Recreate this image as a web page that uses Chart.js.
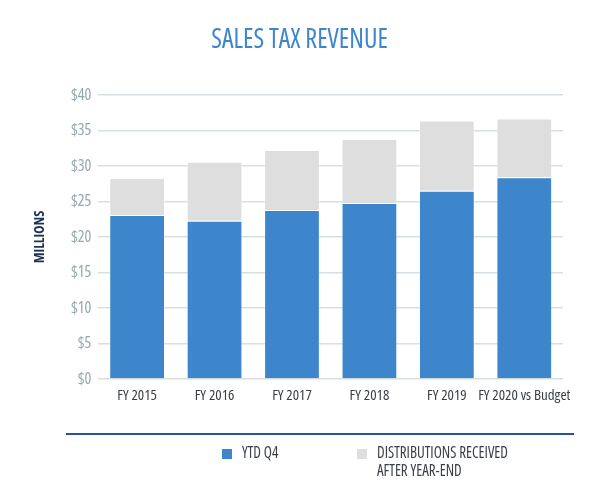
<!DOCTYPE html>
<html>
<head>
<meta charset="utf-8">
<script src="https://cdn.jsdelivr.net/npm/chart.js@4/dist/chart.umd.min.js"></script>
<style>
  html, body { margin: 0; padding: 0; background: #fff; }
  #wrap { position: relative; width: 600px; height: 491px; overflow: hidden; }
  #c { position: absolute; left: 0; top: 0; }
  #title { position: absolute; left: 0; width: 600px; top: 24px; text-align: center;
    font-family: "Open Sans", sans-serif; font-stretch: condensed;
    font-size: 27px; line-height: 27px; color: #3d86cc; margin: 0; font-weight: normal; }
  #title span { display: inline-block; transform: scaleX(0.965); transform-origin: center; }
  #rule { position: absolute; left: 66px; width: 508px; top: 432.5px; height: 2.5px; background: #2853a0; }
  .leg { position: absolute; font-family: "Open Sans", sans-serif; font-stretch: condensed;
    font-size: 17px; color: #3a3f45; line-height: 17.7px; white-space: nowrap;
    transform: scaleX(0.88); transform-origin: left top; }
  .sw { position: absolute; width: 10px; height: 9.5px; }
</style>
</head>
<body>
<div id="wrap">
  <canvas id="c" width="600" height="491"></canvas>
  <div id="title"><span>SALES TAX REVENUE</span></div>
  <div id="rule"></div>
  <div id="legend"></div>
</div>
<script>
const categories = ["FY 2015", "FY 2016", "FY 2017", "FY 2018", "FY 2019", "FY 2020 vs Budget"];
const ytdQ4 = [23.1, 22.3, 23.8, 24.8, 26.5, 28.4];
const afterYearEnd = [5.2, 8.3, 8.45, 9.0, 9.9, 8.3];
const seriesNames = ["YTD Q4", "DISTRIBUTIONS RECEIVED\nAFTER YEAR-END"];
const yTicks = [0, 5, 10, 15, 20, 25, 30, 35, 40];

const blue = "#3d86cb";
const grey = "#dedede";
const fontFam = '"Open Sans", sans-serif';

const ctx = document.getElementById("c");
const chart = new Chart(ctx, {
  type: "bar",
  data: {
    labels: categories,
    datasets: [
      { label: seriesNames[0], data: ytdQ4, backgroundColor: blue,
        borderColor: "rgba(255,255,255,0.35)", borderWidth: 1, borderSkipped: "bottom",
        barPercentage: 0.72, categoryPercentage: 1 },
      { label: seriesNames[1], data: afterYearEnd, backgroundColor: grey,
        borderColor: "rgba(255,255,255,0.5)", borderWidth: 1, borderSkipped: "bottom",
        barPercentage: 0.72, categoryPercentage: 1 }
    ]
  },
  options: {
    responsive: false,
    animation: false,
    devicePixelRatio: 1,
    layout: { padding: { top: 95, left: 21, right: 37, bottom: 87 } },
    plugins: { legend: { display: false }, tooltip: { enabled: false }, title: { display: false } },
    scales: {
      x: {
        stacked: true,
        afterFit: (axis) => { axis.height = 25; },
        grid: { display: false, drawTicks: false },
        border: { display: false },
        ticks: { color: "#3a3f45", padding: 8, maxRotation: 0, autoSkip: false,
          font: { family: fontFam, size: 15, weight: "condensed" } }
      },
      y: {
        stacked: true, min: 0, max: 40,
        afterBuildTicks: (axis) => { axis.ticks = yTicks.map(v => ({ value: v })); },
        afterFit: (axis) => { axis.width = 77.4; },
        grid: { color: "#d8dfe2", lineWidth: 1.5, drawTicks: false },
        border: { display: false },
        ticks: { callback: (v) => "$" + v, color: "#97a8ad", padding: 7,
          font: { family: fontFam, size: 16, weight: "condensed" } },
        title: { display: true, text: "MILLIONS", color: "#1c3354", padding: { top: 11, bottom: 0 },
          font: { family: fontFam, size: 14, weight: "bold condensed" } }
      }
    }
  }
});

// HTML legend built from chart datasets
const legend = document.getElementById("legend");
const legPos = [{ sx: 222, tx: 241.5 }, { sx: 357, tx: 377 }];
chart.data.datasets.forEach((ds, i) => {
  const sw = document.createElement("div");
  sw.className = "sw";
  sw.style.left = legPos[i].sx + "px";
  sw.style.top = "449px";
  sw.style.background = ds.backgroundColor;
  legend.appendChild(sw);
  const t = document.createElement("div");
  t.className = "leg";
  t.style.left = legPos[i].tx + "px";
  t.style.top = "443px";
  t.innerHTML = ds.label.split("\n").join("<br>");
  legend.appendChild(t);
});
</script>
</body>
</html>
